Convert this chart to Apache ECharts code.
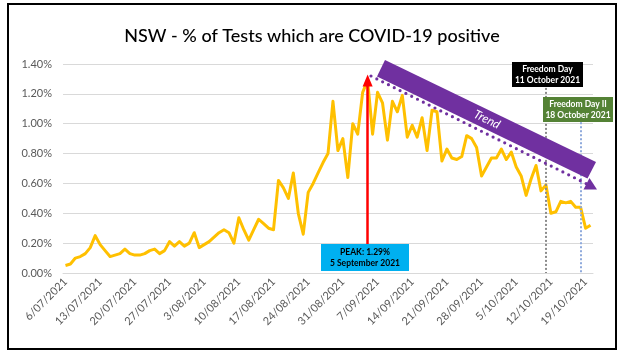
<!DOCTYPE html>
<html>
<head>
<meta charset="utf-8">
<script src="https://cdn.jsdelivr.net/npm/echarts@6/dist/echarts.min.js"></script>
<style>
  html, body { margin: 0; padding: 0; background: #fff; }
  #chart { width: 624px; height: 355px; }
</style>
</head>
<body>
<div id="chart"></div>
<script>
const titleText = 'NSW - % of Tests which are COVID-19 positive';

const dates = [
  '6/07/2021','7/07/2021','8/07/2021','9/07/2021','10/07/2021','11/07/2021','12/07/2021','13/07/2021','14/07/2021','15/07/2021',
  '16/07/2021','17/07/2021','18/07/2021','19/07/2021','20/07/2021','21/07/2021','22/07/2021','23/07/2021','24/07/2021','25/07/2021',
  '26/07/2021','27/07/2021','28/07/2021','29/07/2021','30/07/2021','31/07/2021',
  '1/08/2021','2/08/2021','3/08/2021','4/08/2021','5/08/2021','6/08/2021','7/08/2021','8/08/2021','9/08/2021','10/08/2021',
  '11/08/2021','12/08/2021','13/08/2021','14/08/2021','15/08/2021','16/08/2021','17/08/2021','18/08/2021','19/08/2021','20/08/2021',
  '21/08/2021','22/08/2021','23/08/2021','24/08/2021','25/08/2021','26/08/2021','27/08/2021','28/08/2021','29/08/2021','30/08/2021','31/08/2021',
  '1/09/2021','2/09/2021','3/09/2021','4/09/2021','5/09/2021','6/09/2021','7/09/2021','8/09/2021','9/09/2021','10/09/2021',
  '11/09/2021','12/09/2021','13/09/2021','14/09/2021','15/09/2021','16/09/2021','17/09/2021','18/09/2021','19/09/2021','20/09/2021',
  '21/09/2021','22/09/2021','23/09/2021','24/09/2021','25/09/2021','26/09/2021','27/09/2021','28/09/2021','29/09/2021','30/09/2021',
  '1/10/2021','2/10/2021','3/10/2021','4/10/2021','5/10/2021','6/10/2021','7/10/2021','8/10/2021','9/10/2021','10/10/2021',
  '11/10/2021','12/10/2021','13/10/2021','14/10/2021','15/10/2021','16/10/2021','17/10/2021','18/10/2021','19/10/2021','20/10/2021'
];

// % of tests positive (in percent)
const positivity = [
  0.05,0.06,0.10,0.11,0.13,0.17,0.25,0.19,0.15,0.11,
  0.12,0.13,0.16,0.13,0.12,0.12,0.13,0.15,0.16,0.13,
  0.15,0.21,0.18,0.21,0.18,0.20,
  0.27,0.17,0.19,0.21,0.24,0.27,0.29,0.27,0.20,0.37,
  0.29,0.22,0.29,0.36,0.33,0.30,0.29,0.62,0.57,0.50,
  0.67,0.40,0.26,0.54,0.60,0.67,0.74,0.80,1.15,0.82,0.90,
  0.64,1.00,0.93,1.21,1.29,0.93,1.21,1.14,0.89,1.15,
  1.08,1.19,0.91,0.99,0.91,1.04,0.82,1.09,1.08,0.75,
  0.83,0.77,0.76,0.78,0.92,0.90,0.84,0.65,0.71,0.77,
  0.77,0.83,0.76,0.81,0.71,0.65,0.52,0.63,0.72,0.55,
  0.59,0.40,0.41,0.48,0.47,0.48,0.44,0.44,0.30,0.32
];

const yTicks = [0, 0.2, 0.4, 0.6, 0.8, 1.0, 1.2, 1.4];

const peakDate = '5/09/2021';
const peakValue = 1.29;
const peakText = 'PEAK: 1.29%\n5 September 2021';
const freedomDate1 = '11/10/2021';
const freedomText1 = 'Freedom Day\n11 October 2021';
const freedomDate2 = '18/10/2021';
const freedomText2 = 'Freedom Day II\n18 October 2021';
const trendText = 'Trend';

const FONT = 'Lato, "Open Sans", sans-serif';
const chart = echarts.init(document.getElementById('chart'), null, { renderer: 'canvas' });

const purple = '#7030A0';
const trendAngle = Math.atan2(102, 211);

chart.setOption({
  animation: false,
  backgroundColor: '#ffffff',
  textStyle: { fontFamily: FONT },
  title: {
    text: titleText,
    left: 'center',
    top: 22,
    textStyle: { fontFamily: FONT, fontSize: 18, fontWeight: 500, color: '#000000' }
  },
  grid: { left: 63, right: 31, top: 64, bottom: 82 },
  xAxis: {
    type: 'category',
    data: dates,
    boundaryGap: true,
    axisTick: { show: false },
    axisLine: { lineStyle: { color: '#D9D9D9', width: 1 } },
    axisLabel: { interval: 6, rotate: 45, color: '#595959', fontSize: 11, margin: 7, fontFamily: FONT }
  },
  yAxis: {
    type: 'value',
    min: yTicks[0],
    max: yTicks[yTicks.length - 1],
    interval: 0.2,
    axisLine: { show: false },
    axisTick: { show: false },
    splitLine: { lineStyle: { color: '#D9D9D9', width: 1 } },
    axisLabel: { color: '#595959', fontSize: 11, margin: 11, fontFamily: FONT,
      formatter: v => v.toFixed(2) + '%' }
  },
  series: [
    {
      type: 'line',
      data: positivity,
      showSymbol: false,
      smooth: false,
      lineStyle: { color: '#FFC000', width: 3, join: 'round' },
      z: 3,
      markLine: {
        silent: true,
        symbol: ['none', 'none'],
        label: { show: false },
        emphasis: { disabled: true },
        data: [
          [
            { coord: [freedomDate1, 1.24], symbol: 'none', lineStyle: { color: '#8C8C8C', width: 2, type: [2, 2] } },
            { coord: [freedomDate1, 0], symbol: 'none' }
          ],
          [
            { coord: [freedomDate2, 1.01], symbol: 'none', lineStyle: { color: '#8FAADC', width: 2, type: [2, 2] } },
            { coord: [freedomDate2, 0], symbol: 'none' }
          ],
          [
            { coord: [peakDate, 0.19], symbol: 'none', lineStyle: { color: '#FF0000', width: 2.5, type: 'solid' } },
            { coord: [peakDate, peakValue], symbol: 'triangle', symbolSize: [10, 12], symbolRotate: 0 }
          ]
        ]
      }
    }
  ],
  graphic: [
    { type: 'rect', shape: { x: 8, y: 4, width: 608, height: 345 }, style: { fill: null, stroke: '#000', lineWidth: 2 }, z: 100 },
    { type: 'polygon', shape: { points: [[385, 60], [596, 162], [587.5, 178.5], [377, 76.5]] }, style: { fill: purple }, z: 50 },
    { type: 'text', x: 487, y: 119.5, rotation: -trendAngle,
      style: { text: trendText, fill: '#fff', font: 'italic 12px ' + FONT, textAlign: 'center', textVerticalAlign: 'middle', align: 'center', verticalAlign: 'middle' }, z: 51 },
    { type: 'line', shape: { x1: 371, y1: 76, x2: 588, y2: 184.5 }, style: { stroke: purple, lineWidth: 3.2, lineDash: [0, 6.5], lineCap: 'round' }, z: 50 },
    { type: 'polygon', shape: { points: [[597, 189.5], [583.5, 189.5], [589.5, 178]] }, style: { fill: purple }, z: 50 },
    { type: 'rect', shape: { x: 512, y: 62, width: 71, height: 25 }, style: { fill: '#000000' }, z: 60 },
    { type: 'text', x: 547.5, y: 74.5,
      style: { text: freedomText1, fill: '#fff', font: 'bold 8.5px ' + FONT, lineHeight: 11, textAlign: 'center', textVerticalAlign: 'middle', align: 'center', verticalAlign: 'middle' }, z: 61 },
    { type: 'rect', shape: { x: 543, y: 97, width: 70, height: 25 }, style: { fill: '#548235' }, z: 60 },
    { type: 'text', x: 578, y: 109.5,
      style: { text: freedomText2, fill: '#fff', font: 'bold 8.5px ' + FONT, lineHeight: 11, textAlign: 'center', textVerticalAlign: 'middle', align: 'center', verticalAlign: 'middle' }, z: 61 },
    { type: 'rect', shape: { x: 321, y: 244, width: 88, height: 27 }, style: { fill: '#00B0F0' }, z: 60 },
    { type: 'text', x: 365, y: 257.5,
      style: { text: peakText, fill: '#000', font: 'bold 8.5px ' + FONT, lineHeight: 11, textAlign: 'center', textVerticalAlign: 'middle', align: 'center', verticalAlign: 'middle' }, z: 61 }
  ]
});
</script>
</body>
</html>
